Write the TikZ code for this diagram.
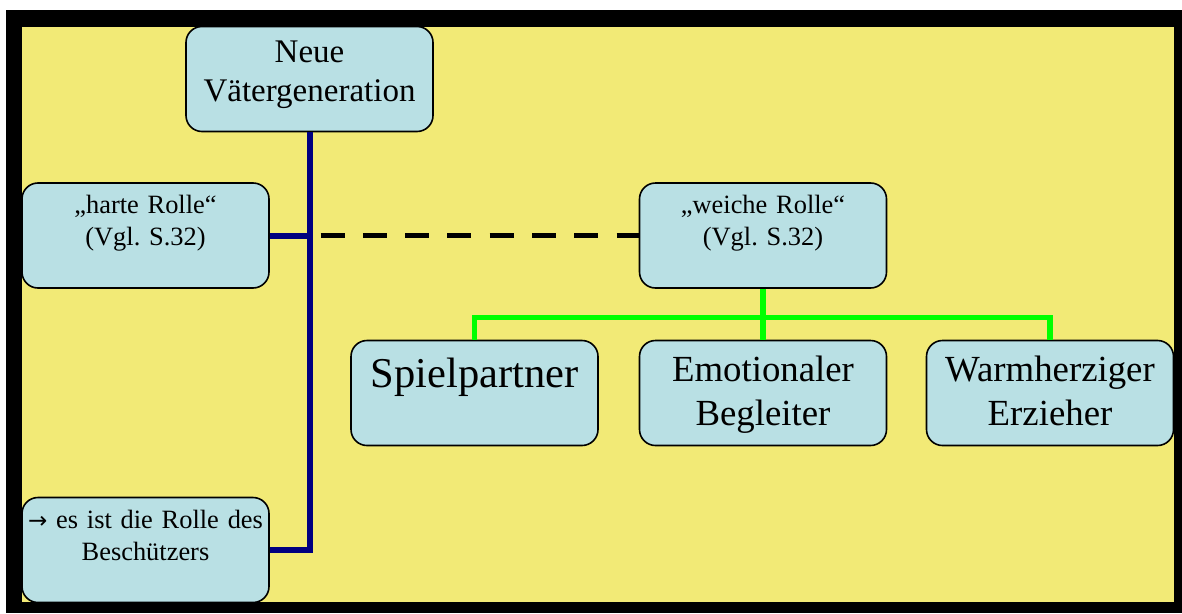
\documentclass[tikz,border=0pt]{standalone}
\usepackage{fontspec}
\setmainfont{Liberation Serif}
\newfontfamily\arrowfont{DejaVu Sans}
\definecolor{bgyellow}{RGB}{242,234,118}
\definecolor{boxblue}{RGB}{185,224,228}
\definecolor{navyline}{RGB}{0,0,128}
\definecolor{greenline}{RGB}{0,255,0}
\frenchspacing
\begin{document}
\begin{tikzpicture}[x=1pt,y=-1pt,
  box/.style={draw=black, line width=1.6pt, fill=boxblue, rounded corners=16pt,
    minimum width=247pt, minimum height=105pt, inner sep=0pt},
  txt/.style={anchor=base, text width=246pt, align=center, inner sep=0pt, text=black},
  small/.style={font=\fontsize{26.4}{32}\selectfont\frenchspacing},
  mid/.style={font=\fontsize{36.8}{44}\selectfont},
  blueln/.style={draw=navyline, line width=6pt, line join=miter},
  greenln/.style={draw=greenline, line width=5.3pt, line join=miter},
  dashln/.style={draw=black, line width=5.6pt, dash pattern=on 24pt off 18.3pt, dash phase=31.3pt}]
\useasboundingbox (0,0) rectangle (1182,613);
\fill[black] (6,10) rectangle (1182,613);
\fill[bgyellow] (22,27) rectangle (1174,602);

% boxes
\node[box] (neue) at (309.5,79) {};
\node[box] (harte) at (145.5,235.5) {};
\node[box] (besch) at (145.5,550) {};
\node[box] (weiche) at (763,235.5) {};
\node[box] (spiel) at (474.5,393) {};
\node[box] (emot) at (763,393) {};
\node[box] (warm) at (1050,393) {};

% texts
\node[txt, font=\fontsize{33}{39}\selectfont] (neuet) at (309.5,62) {Neue\\Vätergeneration};
\node[txt, small] (hartet) at (145.5,213) {„harte Rolle“\\(Vgl. S.32)};
\node[txt, small] (weichet) at (763,213) {„weiche Rolle“\\(Vgl. S.32)};
\node[txt, small] (borsch) at (145.5,528) {{\arrowfont\fontsize{23}{23}\selectfont →} es ist die Rolle des\\Beschützers};
\node[txt, font=\fontsize{42.5}{50}\selectfont] (spielt) at (474.5,387) {Spielpartner};
\node[txt, mid] (emott) at (763,381) {Emotionaler\\Begleiter};
\node[txt, mid] (warmt) at (1050,381) {Warmherziger\\Erzieher};

% connectors
\coordinate (hj) at (harte.east -| neue.south);
\draw[blueln] (neue.south) -- (neue.south |- besch.east) -- (besch.east);
\draw[blueln] (harte.east) -- (hj);
\draw[dashln] (hj) -- (weiche.west);
\path (weiche.south) ++(0,28.7) coordinate (gj);
\draw[greenln] (weiche.south) -- (gj);
\draw[greenln] (spiel.north) -- (spiel.north |- gj) -- (warm.north |- gj) -- (warm.north);
\draw[greenln] (gj) -- (emot.north);
\end{tikzpicture}
\end{document}
